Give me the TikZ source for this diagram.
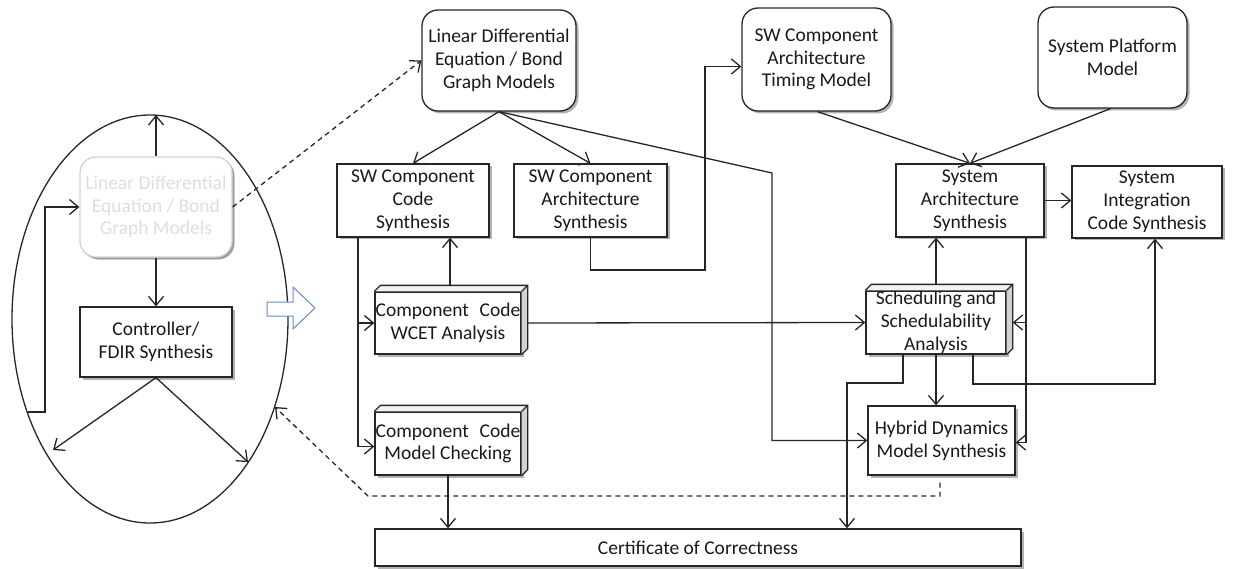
\documentclass[tikz,border=0pt]{standalone}
\usepackage{fontspec}
\setmainfont{Carlito}
\usetikzlibrary{arrows.meta,shadows,calc}

\definecolor{fadetext}{RGB}{222,222,222}
\definecolor{fadeline}{RGB}{210,210,210}
\definecolor{hollowblue}{RGB}{98,140,205}

% side and top faces of a box drawn in perspective
\newcommand\boxfaces[1]{%
  \fill[gray!10] (#1.north west) -- ([shift={(6pt,6pt)}]#1.north west) -- ([shift={(6pt,6pt)}]#1.north east) -- (#1.north east) -- cycle;
  \fill[gray!35] (#1.north east) -- ([shift={(6pt,6pt)}]#1.north east) -- ([shift={(6pt,6pt)}]#1.south east) -- (#1.south east) -- cycle;
  \draw[line] (#1.north west) -- ++(6pt,6pt) -- ([shift={(6pt,6pt)}]#1.north east) -- ([shift={(6pt,6pt)}]#1.south east) -- (#1.south east);
  \draw[line] (#1.north east) -- ++(6pt,6pt);
}

\begin{document}
\begin{tikzpicture}[x=1pt,y=-1pt,
  line/.style={line width=1.3pt, draw=black!85},
  arr/.style={line, -{Straight Barb[length=9pt,width=15pt,line width=1.3pt]}},
  dasharr/.style={arr, dash pattern=on 5pt off 4pt},
  shade/.style={drop shadow={shadow xshift=2.5pt, shadow yshift=-2.5pt, opacity=0.3, fill=black}},
  proc/.style={line, fill=white, shade, inner sep=0pt, align=center,
    font=\fontsize{19.5}{22.8}\selectfont, text=black!90},
  model/.style={proc, rounded corners=16pt},
  cubebox/.style={proc},
]
\useasboundingbox (0,0) rectangle (1241,569);

% ---------- left: controller design loop ----------
\draw[line] (150,319) ellipse [x radius=138, y radius=204];

\node[model, draw=fadeline, text=fadetext, drop shadow={shadow xshift=2pt, shadow yshift=-2pt, opacity=0.12, fill=black},
      minimum width=152, minimum height=100] (fade) at (156,207)
  {Linear Differential\\Equation / Bond\\Graph Models};
\node[proc, minimum width=152, minimum height=70] (ctrl) at (156,342)
  {Controller/\\FDIR Synthesis};

\coordinate (etop) at (156,115);
\coordinate (eleft) at (28,412);
\coordinate (ebl) at (53,450);
\coordinate (ebr) at (248,462);
\coordinate (eright) at (275,407);

\draw[arr] (fade.north) -- (etop);
\draw[arr] (fade.south) -- (ctrl.north);
\draw[arr] (ctrl.south) -- (ebl);
\draw[arr] (ctrl.south) -- (ebr);
\draw[arr] (eleft) -- (45,412) |- (fade.west);

% hollow arrow
\draw[hollowblue, line width=1pt, fill=white]
  (267,302) -- (293,302) -- (293,287) -- (315,308) -- (293,329) -- (293,316) -- (267,316) -- cycle;

% ---------- right: synthesis flow ----------
\node[model, minimum width=154, minimum height=101] (lde) at (499,60.5)
  {Linear Differential\\Equation / Bond\\Graph Models};
\node[model, minimum width=149, minimum height=103] (tim) at (816.5,59.5)
  {SW Component\\Architecture\\Timing Model};
\node[model, minimum width=149, minimum height=101] (plat) at (1112.5,57.5)
  {System Platform\\Model};

\node[proc, minimum width=152, minimum height=73] (swcc) at (413,200.5)
  {SW Component\\Code\\Synthesis};
\node[proc, minimum width=153, minimum height=73] (swca) at (590.5,200.5)
  {SW Component\\Architecture\\Synthesis};
\node[proc, minimum width=148, minimum height=73] (sas) at (970,200.5)
  {System\\Architecture\\Synthesis};
\node[proc, minimum width=150, minimum height=72] (sics) at (1147,202)
  {System\\Integration\\Code Synthesis};

\node[cubebox, minimum width=146, minimum height=62] (wcet) at (448,323)
  {Component\hspace{0.55em}Code\\WCET Analysis};
\boxfaces{wcet}
\node[cubebox, minimum width=146, minimum height=63] (mc) at (448,443.5)
  {Component\hspace{0.55em}Code\\Model Checking};
\boxfaces{mc}
\node[cubebox, minimum width=140, minimum height=63] (sched) at (936,322.5)
  {Scheduling and\\Schedulability\\Analysis};
\boxfaces{sched}

\node[proc, minimum width=147, minimum height=69] (hyb) at (941.5,440.5)
  {Hybrid Dynamics\\Model Synthesis};
\node[proc, minimum width=646, minimum height=37] (cert) at (698,547.5)
  {Certificate of Correctness};

% routing points
\coordinate (bend) at (772,173);
\coordinate (cbus) at (358,237);
\coordinate (abus) at (705,270);
\coordinate (sbus) at (1026,237);
\coordinate (dl) at (903,383);
\coordinate (dl2) at (847,383);
\coordinate (dr) at (1155,384);
\coordinate (hd) at (940,496);
\coordinate (hd2) at (368,496);

% connectors
\draw[dasharr] (fade.east) -- (lde.west);
\draw[arr] (lde.south) -- (swcc.north);
\draw[arr] (lde.south) -- (swca.north);
\draw[arr] (lde.south) -- (bend) |- (hyb.west);
\draw[arr] ([xshift=1pt]tim.south) -- (sas.north);
\draw[arr] ([xshift=-2pt]plat.south) -- (sas.north);
\draw[arr] (sas.east) -- (sas.east -| sics.west);
\draw[arr] (swca.south) |- (abus) |- ([yshift=-7pt]tim.west);

\draw[arr] (cbus) |- ([yshift=-3pt]mc.west);
\draw[arr] (cbus |- wcet.west) -- (wcet.west);
\draw[arr] ([yshift=6pt,xshift=2pt]wcet.north) -- ([xshift=2pt]wcet.north |- swcc.south);
\draw[arr] ([xshift=6pt]wcet.east) -- (sched.west);
\draw[arr] ([yshift=6pt]sched.north) -- (sched.north |- sas.south);
\draw[arr] (sbus) |- ([yshift=-2pt]hyb.east);
\draw[arr] (sbus |- sched.east) -- ([xshift=6pt]sched.east);
\draw[arr] (sched.south) -- (sched.south |- hyb.north);
\draw[arr] (dl |- sched.south) -- (dl) -- (dl2) -- (dl2 |- cert.north);
\draw[arr] ([xshift=37pt]sched.south) |- (dr) -- (dr |- sics.south);
\draw[arr] (mc.south) -- (mc.south |- cert.north);
\draw[dasharr] ([yshift=-7pt]hyb.south -| hd) -- (hd) -- (hd2) -- (eright);
\end{tikzpicture}
\end{document}
